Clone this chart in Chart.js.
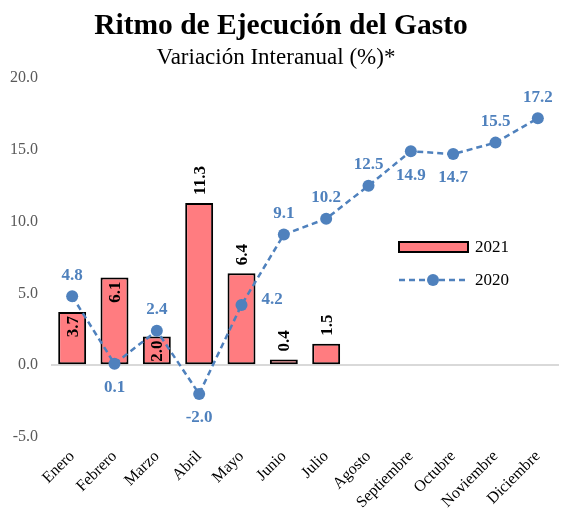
<!DOCTYPE html>
<html><head><meta charset="utf-8">
<script src="https://cdn.jsdelivr.net/npm/chart.js@4/dist/chart.umd.min.js"></script>
<style>html,body{margin:0;padding:0;background:#fff}#wrap{width:565px;height:519px}</style>
</head><body><div id="wrap"><canvas id="c" width="565" height="519"></canvas></div>
<script>
const categories = ['Enero','Febrero','Marzo','Abril','Mayo','Junio','Julio','Agosto','Septiembre','Octubre','Noviembre','Diciembre'];
const values2021 = [3.7, 6.1, 2.0, 11.3, 6.4, 0.4, 1.5];
const values2020 = [4.8, 0.1, 2.4, -2.0, 4.2, 9.1, 10.2, 12.5, 14.9, 14.7, 15.5, 17.2];
const seriesNames = ['2021', '2020'];
const titleText = 'Ritmo de Ejecución del Gasto';
const subtitleText = 'Variación Interanual (%)*';

const SERIF = '"Liberation Serif", "Times New Roman", serif';
const BAR_COLOR = '#FF7C80';
const LINE_COLOR = '#4F81BD';

const barInside = [true, true, true, false, false, false, false];
const lineLabelPos = ['above','below','above','below','right','above','above','above','below','below','above','above'];

const labelsPlugin = {
  id: 'labelsPlugin',
  afterDatasetsDraw(chart) {
    const ctx = chart.ctx;
    ctx.save();
    ctx.font = 'bold 17px ' + SERIF;
    const bm = chart.getDatasetMeta(1);
    bm.data.forEach((el, i) => {
      const v = values2021[i];
      ctx.save();
      ctx.translate(el.x, el.y);
      ctx.rotate(-Math.PI / 2);
      ctx.fillStyle = '#000';
      ctx.textBaseline = 'middle';
      if (barInside[i]) { ctx.textAlign = 'right'; ctx.fillText(v.toFixed(1), -4, 1); }
      else { ctx.textAlign = 'left'; ctx.fillText(v.toFixed(1), 8, 1); }
      ctx.restore();
    });
    const lm = chart.getDatasetMeta(0);
    ctx.fillStyle = LINE_COLOR;
    lm.data.forEach((el, i) => {
      const t = values2020[i].toFixed(1);
      const p = lineLabelPos[i];
      if (p === 'above') { ctx.textAlign = 'center'; ctx.textBaseline = 'middle'; ctx.fillText(t, el.x, el.y - 21); }
      else if (p === 'below') { ctx.textAlign = 'center'; ctx.textBaseline = 'middle'; ctx.fillText(t, el.x, el.y + 24); }
      else { ctx.textAlign = 'left'; ctx.textBaseline = 'middle'; ctx.fillText(t, el.x + 20, el.y - 5); }
    });
    ctx.restore();
  },
  afterDraw(chart) {
    const ctx = chart.ctx;
    ctx.save();
    ctx.fillStyle = '#000';
    ctx.textAlign = 'center';
    ctx.textBaseline = 'middle';
    ctx.font = 'bold 29.5px ' + SERIF;
    ctx.fillText(titleText, 281, 26);
    ctx.font = '23px ' + SERIF;
    ctx.fillText(subtitleText, 276, 58);
    ctx.fillStyle = BAR_COLOR;
    ctx.strokeStyle = '#000';
    ctx.lineWidth = 2;
    ctx.fillRect(399, 242, 69, 10);
    ctx.strokeRect(399, 242, 69, 10);
    ctx.strokeStyle = LINE_COLOR;
    ctx.lineWidth = 2.5;
    ctx.setLineDash([6, 4]);
    ctx.beginPath(); ctx.moveTo(399, 280); ctx.lineTo(468, 280); ctx.stroke();
    ctx.setLineDash([]);
    ctx.fillStyle = LINE_COLOR;
    ctx.beginPath(); ctx.arc(433, 280, 6, 0, Math.PI * 2); ctx.fill();
    ctx.fillStyle = '#000';
    ctx.font = '17px ' + SERIF;
    ctx.textAlign = 'left';
    ctx.fillText(seriesNames[0], 475, 248);
    ctx.fillText(seriesNames[1], 475, 281);
    ctx.restore();
  }
};

new Chart(document.getElementById('c'), {
  type: 'bar',
  data: {
    labels: categories,
    datasets: [
      {
        type: 'line', label: seriesNames[1], data: values2020, order: 0,
        borderColor: LINE_COLOR, backgroundColor: LINE_COLOR, borderWidth: 2.5,
        borderDash: [6, 4], pointRadius: 6, pointBorderWidth: 0, pointBackgroundColor: LINE_COLOR,
        tension: 0, fill: false
      },
      {
        type: 'bar', label: seriesNames[0], data: values2021, order: 1,
        backgroundColor: BAR_COLOR, borderColor: '#000', borderWidth: 2, borderSkipped: false,
        barPercentage: 0.66, categoryPercentage: 1
      }
    ]
  },
  options: {
    responsive: false, animation: false, devicePixelRatio: 1,
    layout: { padding: { top: 78, left: 0, right: 3, bottom: 0 } },
    plugins: { legend: { display: false }, title: { display: false }, tooltip: { enabled: false } },
    scales: {
      x: {
        offset: true,
        grid: { display: false }, border: { display: false },
        ticks: { color: '#000', font: { family: SERIF, size: 16 }, maxRotation: 45, minRotation: 45, autoSkip: false, padding: 2 },
        afterFit(s) { s.height = 82; }
      },
      y: {
        min: -5, max: 20,
        border: { display: false },
        grid: { color: c => c.tick && c.tick.value === 0 ? '#D9D9D9' : 'transparent', lineWidth: 2, drawTicks: false },
        ticks: { stepSize: 5, color: '#595959', font: { family: SERIF, size: 16 }, padding: 13, callback: v => Number(v).toFixed(1) },
        afterFit(s) { s.width = 51; }
      }
    }
  },
  plugins: [labelsPlugin]
});
</script></body></html>
